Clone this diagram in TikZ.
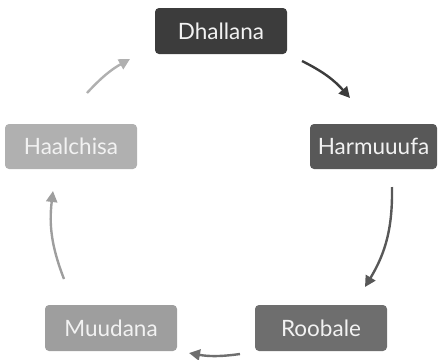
\documentclass[tikz,border=0pt]{standalone}
\usepackage{fontspec}
\setmainfont{Lato}
\usetikzlibrary{arrows.meta}
\definecolor{cA}{HTML}{3C3C3C}
\definecolor{cB}{HTML}{585858}
\definecolor{cC}{HTML}{6E6E6E}
\definecolor{cD}{HTML}{9E9E9E}
\definecolor{cE}{HTML}{B0B0B0}
\begin{document}
\begin{tikzpicture}[x=1pt,y=-1pt,
  stage/.style={rounded corners=4pt, minimum width=132pt, minimum height=46pt,
    text=white!95!black, font=\fontsize{22.5}{26}\selectfont, inner sep=0pt},
  flow/.style={line width=2.4pt, -{Triangle[length=11pt,width=11pt]}}]
\useasboundingbox (0,0) rectangle (438,359);
% the five stages
\node[stage, fill=cA] (d) at (221,31) {Dhallana};
\node[stage, fill=cB, minimum width=127pt, minimum height=45pt] (h) at (373.5,146.5) {Harmuuufa};
\node[stage, fill=cC] (r) at (321,328) {Roobale};
\node[stage, fill=cD] (m) at (111,328) {Muudana};
\node[stage, fill=cE, minimum height=45pt] (l) at (71,146.5) {Haalchisa};
% arc end points between stages
\coordinate (a1s) at (302,61);  \coordinate (a1e) at (350,98);
\coordinate (a2s) at (392,187); \coordinate (a2e) at (365,287);
\coordinate (a3s) at (240,354); \coordinate (a3e) at (189,353);
\coordinate (a4s) at (64,279);  \coordinate (a4e) at (53,191);
\coordinate (a5s) at (87,93);   \coordinate (a5e) at (130,59);
\draw[flow, cA] (a1s) to[bend left=11] (a1e);
\draw[flow, cB] (a2s) to[bend left=16] (a2e);
\draw[flow, cC] (a3s) to[bend left=9] (a3e);
\draw[flow, cD] (a4s) to[bend left=14] (a4e);
\draw[flow, cE] (a5s) to[bend left=9] (a5e);
\end{tikzpicture}
\end{document}
